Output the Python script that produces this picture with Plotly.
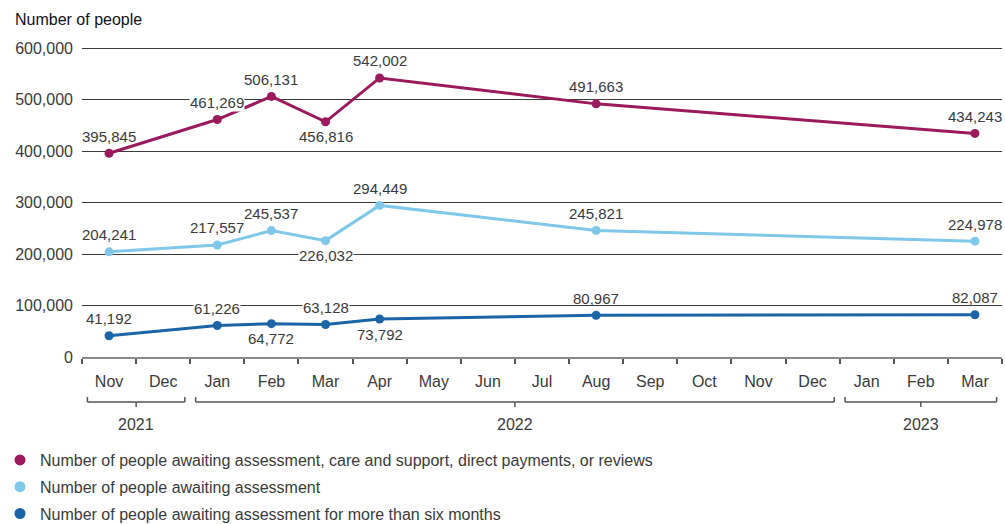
import plotly.graph_objects as go

# ---- data ----
months = ["Nov 2021", "Dec 2021",
          "Jan 2022", "Feb 2022", "Mar 2022", "Apr 2022", "May 2022", "Jun 2022",
          "Jul 2022", "Aug 2022", "Sep 2022", "Oct 2022", "Nov 2022", "Dec 2022",
          "Jan 2023", "Feb 2023", "Mar 2023"]
month_labels = ["Nov", "Dec", "Jan", "Feb", "Mar", "Apr", "May", "Jun", "Jul",
                "Aug", "Sep", "Oct", "Nov", "Dec", "Jan", "Feb", "Mar"]
years = ["2021", "2022", "2023"]

points = ["Nov 2021", "Jan 2022", "Feb 2022", "Mar 2022", "Apr 2022", "Aug 2022", "Mar 2023"]
total_waiting = [395845, 461269, 506131, 456816, 542002, 491663, 434243]
awaiting_assessment = [204241, 217557, 245537, 226032, 294449, 245821, 224978]
over_six_months = [41192, 61226, 64772, 63128, 73792, 80967, 82087]

total_pos = ["top", "top", "top", "bottom", "top", "top", "top"]
assess_pos = ["top", "top", "top", "bottom", "top", "top", "top"]
six_pos = ["top", "top", "bottom", "top", "bottom", "top", "top"]

names = ["Number of people awaiting assessment, care and support, direct payments, or reviews",
         "Number of people awaiting assessment",
         "Number of people awaiting assessment for more than six months"]
colors = ["#9A1A5B", "#80C8EA", "#1B64A5"]

FONT = "Liberation Sans, Arial, sans-serif"
TXT = "#3a3a3a"

Y_MAX = 606000
Y_DTICK = 100000
PLOT_H = 524 - 45 - 167
PX_PER_UNIT = PLOT_H / Y_MAX
SHIFT_UP, SHIFT_DOWN = 17, -15

fig = go.Figure()
series = [total_waiting, awaiting_assessment, over_six_months]
positions = [total_pos, assess_pos, six_pos]

for vals, col in zip(series, colors):
    fig.add_trace(go.Scatter(x=points, y=vals, mode="lines+markers",
                             line=dict(color=col, width=3),
                             marker=dict(color=col, size=9),
                             showlegend=False, hoverinfo="skip"))

for i, (nm, col) in enumerate(zip(names, colors)):
    fig.add_trace(go.Scatter(x=[None], y=[None], mode="markers", name=nm,
                             marker=dict(color=col, size=11),
                             legendgroup=str(i), showlegend=True))

annotations = []
for vals, pos in zip(series, positions):
    for xc, v, p in zip(points, vals, pos):
        shift = SHIFT_UP if p == "top" else SHIFT_DOWN
        # white knock-out only where the label sits on a gridline
        centre_px = v * PX_PER_UNIT + shift
        nearest = round(v / Y_DTICK + shift / (Y_DTICK * PX_PER_UNIT)) * Y_DTICK
        on_grid = abs(nearest * PX_PER_UNIT - centre_px) < 7
        annotations.append(dict(x=xc, y=v, xref="x", yref="y", text=f"{v:,}",
                                showarrow=False, yshift=shift,
                                font=dict(family=FONT, size=15, color=TXT),
                                bgcolor="white" if on_grid else "rgba(0,0,0,0)",
                                borderpad=0))

# year brackets
shapes = []
year_of = [m.split()[1] for m in months]
for yr in years:
    idx = [i for i, y in enumerate(year_of) if y == yr]
    a, b = idx[0] - 0.5 + 0.1, idx[-1] + 0.5 - 0.1
    mid = (idx[0] + idx[-1]) / 2
    line = dict(color="#555555", width=1.5)
    common = dict(type="line", xref="x", yref="paper", ysizemode="pixel", yanchor=0, line=line)
    shapes.append(dict(x0=a, x1=b, y0=-45, y1=-45, **common))
    shapes.append(dict(x0=a, x1=a, y0=-45, y1=-40, **common))
    shapes.append(dict(x0=b, x1=b, y0=-45, y1=-40, **common))
    shapes.append(dict(x0=mid, x1=mid, y0=-45, y1=-50, **common))
    annotations.append(dict(x=mid, y=0, xref="x", yref="paper", yshift=-67,
                            text=yr, showarrow=False, yanchor="middle",
                            font=dict(family=FONT, size=16, color=TXT)))

annotations.append(dict(x=(13 - 82) / 920, y=1, xref="paper", yref="paper",
                        xanchor="left", yanchor="middle", yshift=26,
                        text="Number of people", showarrow=False,
                        font=dict(family=FONT, size=16, color="#111111")))

fig.update_layout(
    width=1005, height=524,
    margin=dict(l=82, r=3, t=45, b=167, autoexpand=False),
    paper_bgcolor="white", plot_bgcolor="white",
    font=dict(family=FONT, color=TXT),
    annotations=annotations, shapes=shapes,
    legend=dict(orientation="v", x=-82 / 920, xanchor="left",
                y=(357 - 443) / 312, yanchor="top",
                font=dict(family=FONT, size=16, color=TXT),
                tracegroupgap=3, bgcolor="rgba(0,0,0,0)"),
    xaxis=dict(type="category", categoryorder="array", categoryarray=months,
               range=[-0.5, 16.5], tickvals=months, ticktext=month_labels,
               tickson="boundaries", ticks="outside", ticklen=5, tickcolor="#555555",
               tickwidth=1.5, showline=True, linecolor="#8a8a8a", linewidth=2,
               showgrid=False, tickfont=dict(family=FONT, size=16, color=TXT),
               ticklabelstandoff=9, fixedrange=True),
    yaxis=dict(range=[0, Y_MAX], dtick=Y_DTICK, tickformat=",", showgrid=True,
               gridcolor="#3a3a3a", gridwidth=1, zeroline=False, showline=False,
               tickfont=dict(family=FONT, size=16, color=TXT),
               ticklabelstandoff=8, fixedrange=True),
)

fig.write_html("out.html")
